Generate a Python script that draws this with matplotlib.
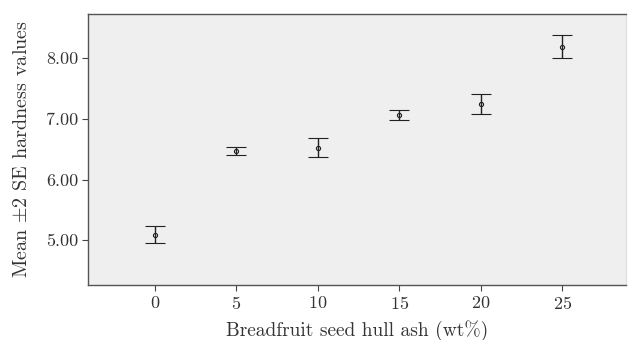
import numpy as np
import matplotlib.pyplot as plt

plt.rcParams['font.family'] = ['cmr10', 'DejaVu Serif']
plt.rcParams['mathtext.fontset'] = 'cm'
plt.rcParams['axes.formatter.use_mathtext'] = True

# ash content (wt%) and hardness mean with +/- 2 SE bounds
ash = [0, 5, 10, 15, 20, 25]
mean = [5.08, 6.47, 6.52, 7.06, 7.24, 8.18]
upper = [5.23, 6.53, 6.68, 7.14, 7.41, 8.38]
lower = [4.95, 6.40, 6.37, 6.98, 7.08, 8.00]

mean = np.array(mean)
err = [mean - np.array(lower), np.array(upper) - mean]

fig = plt.figure(figsize=(6.28, 3.4), dpi=100)
ax = fig.add_axes([88 / 628, 1 - 285 / 340, (626 - 88) / 628, (285 - 14) / 340])
ax.set_facecolor('#efefef')

ax.errorbar(ash, mean, yerr=err, fmt='o', color='#222222', ms=3, mfc='none',
            mew=0.8, elinewidth=1.0, capsize=7.5, capthick=1.0)

ax.set_xlim(-4.1, 28.9)
ax.set_ylim(4.26, 8.73)
ax.set_xticks(ash)
ax.set_yticks([5, 6, 7, 8])
ax.set_yticklabels(['5.00', '6.00', '7.00', '8.00'])
ax.tick_params(direction='out', length=4, width=0.8, colors='#444444',
               labelsize=13, labelcolor='#333333', pad=3)

for side in ['left', 'bottom', 'top']:
    ax.spines[side].set_color('#555555')
    ax.spines[side].set_linewidth(1.0)
ax.spines['right'].set_color('#dddddd')

ax.set_xlabel('Breadfruit seed hull ash (wt%)', fontsize=14, color='#333333', labelpad=6)
ax.set_ylabel(r'Mean $\pm$2 SE hardness values', fontsize=14.5, color='#333333', labelpad=11)

fig.savefig('out.png', dpi=100)
